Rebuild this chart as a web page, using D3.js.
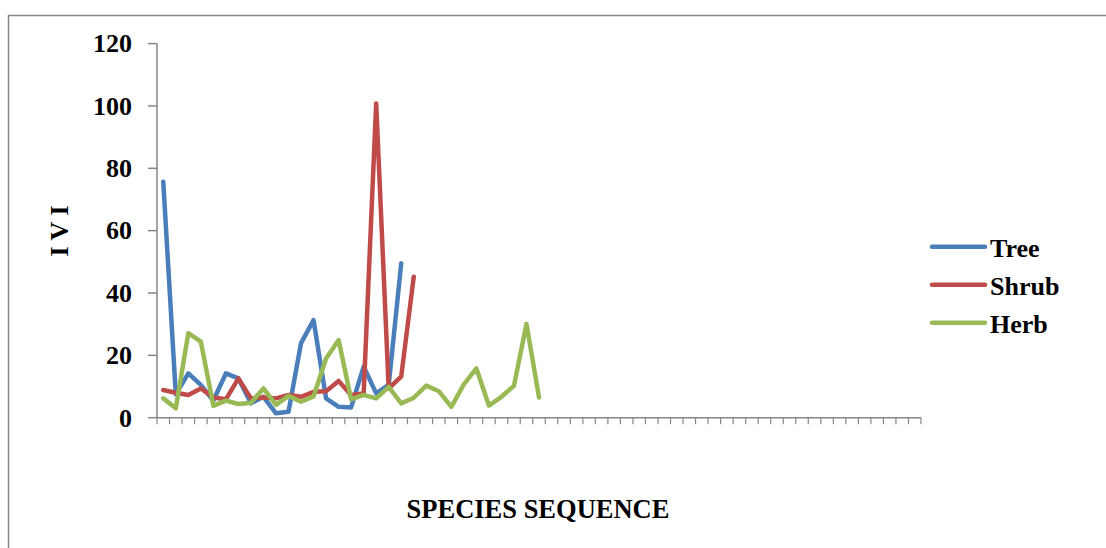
<!DOCTYPE html>
<html>
<head>
<meta charset="utf-8">
<script src="https://cdnjs.cloudflare.com/ajax/libs/d3/7.8.5/d3.min.js"></script>
<style>
  body { margin: 0; background: #fff; }
  svg { display: block; font-family: "Liberation Serif", "Times New Roman", serif; }
</style>
</head>
<body>
<svg width="1106" height="548"></svg>
<script>
// species sequence 1..61 (most slots empty)
var categories = d3.range(1, 62);
var yTicks = [0, 20, 40, 60, 80, 100, 120];

var treeValues = [75.7, 7.5, 14.2, 10.5, 5.5, 14.2, 12.6, 4.6, 6.7, 1.4,
    1.9, 23.9, 31.3, 6.2, 3.5, 3.3, 16.4, 7.8, 10.5, 49.5];
var shrubValues = [8.9, 8.0, 7.3, 9.4, 6.5, 5.9, 12.6, 6.2, 6.5, 6.2,
    7.3, 6.7, 8.3, 8.5, 11.8, 7.3, 7.8, 100.8, 9.4, 13.2, 45.2];
var herbValues = [6.2, 3.0, 27.1, 24.4, 3.8, 5.5, 4.4, 4.8, 9.4, 4.1,
    7.0, 5.1, 6.8, 19.0, 24.9, 5.9, 7.3, 6.2, 9.9, 4.6,
    6.4, 10.3, 8.5, 3.5, 10.7, 15.8, 3.9, 6.7, 10.2, 30.1, 6.5];

var seriesNames = ["Tree", "Shrub", "Herb"];
var seriesColors = ["#4a7ebb", "#be4b48", "#98b954"];
var series = [treeValues, shrubValues, herbValues];

var svg = d3.select("svg");

// outer chart border (runs off the right and bottom of the picture)
svg.append("rect")
    .attr("x", 8.5).attr("y", 15.5)
    .attr("width", 1200).attr("height", 600)
    .attr("fill", "none").attr("stroke", "#868686").attr("stroke-width", 1.5);

var x = d3.scaleBand().domain(categories).range([157, 921]).padding(0),
    y = d3.scaleLinear().domain([0, 120]).range([417.7, 43.6]);

var axisColor = "#868686";

// y axis
var gy = svg.append("g");
gy.append("line")
    .attr("x1", 157).attr("x2", 157)
    .attr("y1", y(120)).attr("y2", y(0))
    .attr("stroke", axisColor).attr("stroke-width", 1.5);
gy.selectAll(".ytick").data(yTicks).enter().append("line")
    .attr("x1", 148).attr("x2", 157)
    .attr("y1", function(d) { return y(d); })
    .attr("y2", function(d) { return y(d); })
    .attr("stroke", axisColor).attr("stroke-width", 1.5);
gy.selectAll(".ylabel").data(yTicks).enter().append("text")
    .attr("x", 132)
    .attr("y", function(d) { return y(d); })
    .attr("dy", "0.34em")
    .attr("text-anchor", "end")
    .attr("font-size", 26).attr("font-weight", "bold")
    .text(function(d) { return d; });

// x axis
var gx = svg.append("g");
gx.append("line")
    .attr("x1", 157).attr("x2", 921)
    .attr("y1", y(0)).attr("y2", y(0))
    .attr("stroke", axisColor).attr("stroke-width", 1.5);
var edges = categories.map(function(c) { return x(c); }).concat([x.range()[1]]);
gx.selectAll(".xtick").data(edges).enter().append("line")
    .attr("x1", function(d) { return d; })
    .attr("x2", function(d) { return d; })
    .attr("y1", y(0)).attr("y2", y(0) + 6.5)
    .attr("stroke", axisColor).attr("stroke-width", 1.2);

// series lines
var line = d3.line()
    .x(function(d, i) { return x(categories[i]) + x.bandwidth() / 2; })
    .y(function(d) { return y(d); });

svg.selectAll(".series").data(series).enter().append("path")
    .attr("class", "series")
    .attr("d", function(d) { return line(d); })
    .attr("fill", "none")
    .attr("stroke", function(d, i) { return seriesColors[i]; })
    .attr("stroke-width", 4.5)
    .attr("stroke-linejoin", "round")
    .attr("stroke-linecap", "round");

// axis titles
svg.append("text")
    .attr("transform", "translate(68,231) rotate(-90)")
    .attr("text-anchor", "middle")
    .attr("font-size", 26).attr("font-weight", "bold")
    .text("I V I");

svg.append("text")
    .attr("x", 538).attr("y", 518)
    .attr("text-anchor", "middle")
    .attr("font-size", 26.5).attr("font-weight", "bold")
    .text("SPECIES SEQUENCE");

// legend
var legend = svg.selectAll(".legend").data(seriesNames).enter().append("g")
    .attr("transform", function(d, i) { return "translate(932," + (246.7 + i * 38) + ")"; });
legend.append("line")
    .attr("x1", 0).attr("x2", 53)
    .attr("stroke", function(d, i) { return seriesColors[i]; })
    .attr("stroke-width", 4.5)
    .attr("stroke-linecap", "round");
legend.append("text")
    .attr("x", 58).attr("y", 10)
    .attr("font-size", 26).attr("font-weight", "bold")
    .text(function(d) { return d; });
</script>
</body>
</html>
